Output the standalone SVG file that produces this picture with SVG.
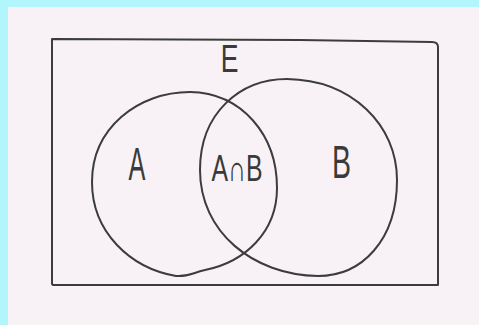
<svg xmlns="http://www.w3.org/2000/svg" width="479" height="325" viewBox="0 0 479 325">
  <style>
    .ink { fill: none; stroke: #3c3c3c; stroke-width: 2; stroke-linecap: round; stroke-linejoin: round; }
    .lbl { font-family: "Liberation Sans", Arial, sans-serif; fill: #3a3a3a; text-anchor: middle; }
  </style>
  <rect x="0" y="0" width="479" height="325" fill="#b2f6fd"/>
  <rect x="8" y="7" width="471" height="318" fill="#f8f2f6"/>
  <g id="universe">
    <path class="ink" d="M 52,39 L 300,40 L 432,42 Q 438,42 438,47 L 438,285 L 53,285 L 52,284 Z"/>
    <text class="lbl" font-size="38" transform="translate(229.5,72) scale(0.7,1)">E</text>
  </g>
  <g id="setA">
    <path class="ink" d="M 92,182 C 92,128 138,92 190,92 C 242,93 277,135 277,188 C 277,232 245,262 205,270 C 192,273 188,277 176,276 C 130,268 92,232 92,182 Z"/>
    <text class="lbl" font-size="46" transform="translate(137,180) scale(0.55,1)">A</text>
  </g>
  <g id="setB">
    <path class="ink" d="M 200,170 C 200,113 240,79 287,79 C 352,80 397,125 397,180 C 397,240 362,276 318,276 C 253,275 200,232 200,170 Z"/>
    <text class="lbl" font-size="46" transform="translate(341.5,178) scale(0.62,1)">B</text>
  </g>
  <g id="intersection">
    <text class="lbl" font-size="36" x="237" y="181" textLength="51" lengthAdjust="spacingAndGlyphs">A∩B</text>
  </g>
</svg>
